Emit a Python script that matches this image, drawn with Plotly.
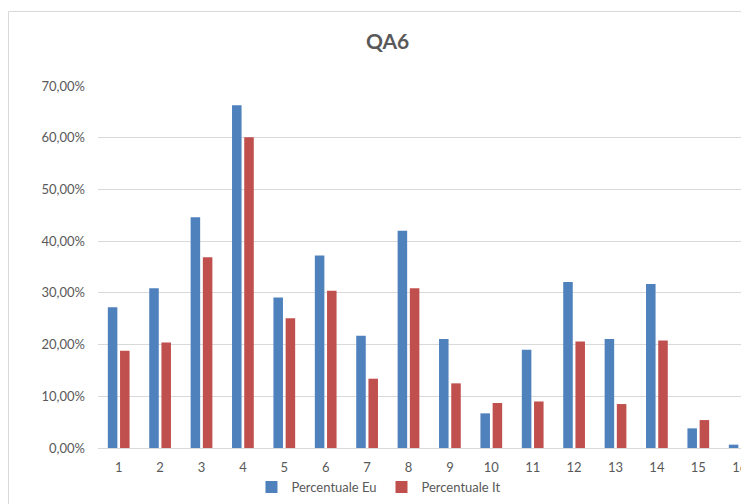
import plotly.graph_objects as go

categories = [str(i) for i in range(1, 17)]
eu_values = [27.2, 30.9, 44.6, 66.3, 29.1, 37.2, 21.7, 42.0, 21.1, 6.7, 19.0, 32.1, 21.1, 31.7, 3.8, 0.65]
it_values = [18.8, 20.4, 36.9, 60.1, 25.1, 30.4, 13.4, 30.9, 12.5, 8.7, 9.0, 20.6, 8.5, 20.8, 5.4, 0.45]
y_tickvals = [0, 10, 20, 30, 40, 50, 60, 70]
y_ticktext = ["0,00%", "10,00%", "20,00%", "30,00%", "40,00%", "50,00%", "60,00%", "70,00%"]

FONT = "Lato, 'Open Sans', sans-serif"
GRAY = "#595959"

x_nums = list(range(1, 17))

# page has an 8px body margin; figure coordinates are page coordinates minus 8
PL, PT, PB, W, H = 90, 78, 440, 741, 496
PW, PH = W - PL, PB - PT

fig = go.Figure()
fig.add_trace(go.Bar(x=x_nums, y=eu_values, name="Percentuale Eu",
                     marker=dict(color="#4F81BD", line=dict(width=0))))
fig.add_trace(go.Bar(x=x_nums, y=it_values, name="Percentuale It",
                     marker=dict(color="#C0504D", line=dict(width=0))))

fig.update_layout(
    width=W, height=H,
    margin=dict(l=PL, r=0, t=PT, b=H - PB, autoexpand=False),
    paper_bgcolor="white", plot_bgcolor="white",
    barmode="group", bargap=0.41, bargroupgap=0.22,
    font=dict(family=FONT, size=13, color=GRAY),
    showlegend=True,
    legend=dict(orientation="h", x=0.4316, xanchor="center", y=(PB - 479) / PH, yanchor="middle",
                font=dict(size=13, color=GRAY), itemwidth=30, traceorder="normal"),
    xaxis=dict(range=[0.5, 0.5 + PW / 41.4], tickvals=x_nums, ticktext=categories, automargin=False,
               showgrid=False, showline=True, linecolor="#D9D9D9", linewidth=1,
               ticks="", ticklabelstandoff=7, tickfont=dict(size=13, color=GRAY), fixedrange=True),
    yaxis=dict(range=[0, 70], tickvals=y_tickvals, ticktext=y_ticktext, automargin=False,
               showgrid=True, gridcolor="#D9D9D9", gridwidth=1, zeroline=False,
               showline=False, ticks="", ticklabelstandoff=12,
               tickfont=dict(size=13, color=GRAY), fixedrange=True),
    shapes=[dict(type="rect", xref="paper", yref="paper",
                 x0=(0.5 - PL) / PW, x1=1.2, y0=-0.3, y1=(PB - 3.5) / PH,
                 line=dict(color="#D9D9D9", width=1), fillcolor="rgba(0,0,0,0)", layer="below")],
    annotations=[dict(text="<b>QA6</b>", xref="paper", yref="paper",
                      x=(379 - PL) / PW, y=(PB - 32) / PH, xanchor="center", yanchor="middle",
                      showarrow=False, font=dict(size=21, color=GRAY, family=FONT))],
)

fig.write_html("out.html")
